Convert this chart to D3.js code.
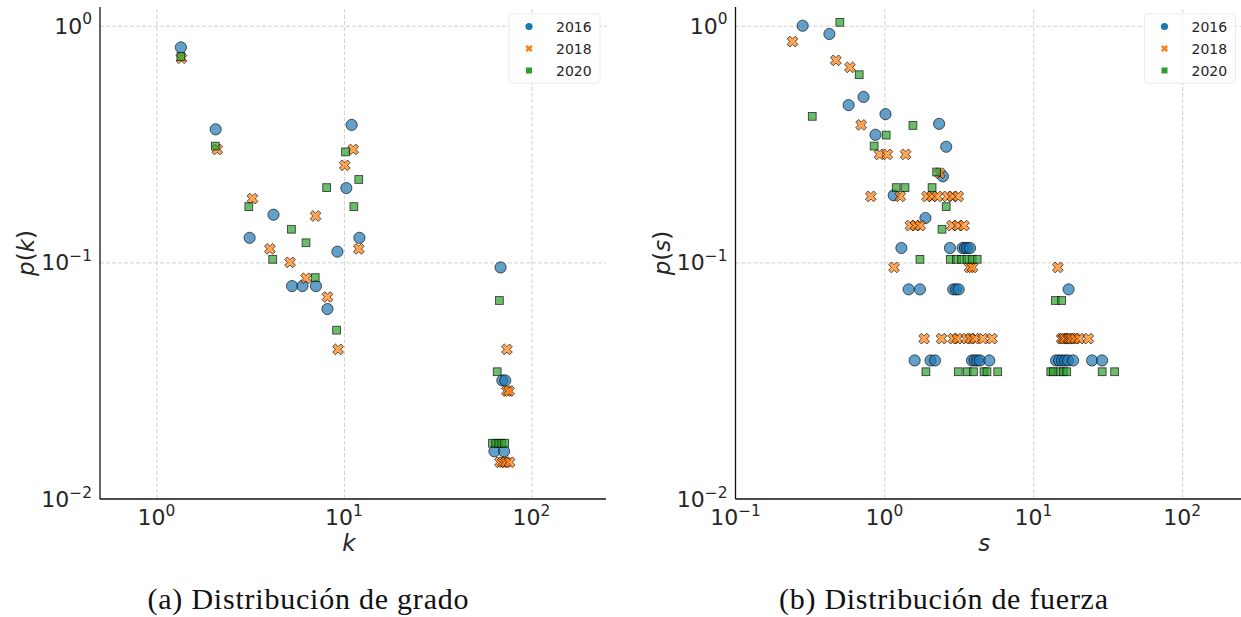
<!DOCTYPE html>
<html><head><meta charset="utf-8">
<script src="https://cdn.jsdelivr.net/npm/d3@7"></script>
<style>body{margin:0;background:#fff} svg{display:block} .cap{font-family:'Liberation Serif','Times New Roman',serif;}</style>
</head><body>
<svg id="c" width="1241" height="617"></svg>
<script>
// ---------------- data ----------------
const years = ["2016", "2018", "2020"];
const xTickExpLeft = [0, 1, 2];
const xTickExpRight = [-1, 0, 1, 2];
const yTickExp = [-2, -1, 0];

// (a) degree distribution
const deg2016_k = [1.35, 2.07, 3.14, 4.21, 5.29, 6.01, 7.09, 8.17, 9.23, 10.3, 11.0, 12.1, 68.5, 70.0, 72.5, 63.5, 71.5];
const deg2016_p = [0.810, 0.365, 0.127, 0.159, 0.0794, 0.0794, 0.0794, 0.0635, 0.111, 0.206, 0.381, 0.127, 0.0952, 0.0317, 0.0317, 0.0159, 0.0159];
const deg2018_k = [1.36, 2.11, 3.25, 4.03, 5.16, 6.28, 7.06, 8.17, 9.31, 10.1, 11.2, 12.0, 74.0, 74.0, 76.0, 68.0, 70.5, 73.0, 76.5];
const deg2018_p = [0.729, 0.300, 0.186, 0.114, 0.100, 0.0857, 0.157, 0.0714, 0.0429, 0.257, 0.300, 0.114, 0.0429, 0.0286, 0.0286, 0.0143, 0.0143, 0.0143, 0.0143];
const deg2020_k = [1.35, 2.06, 3.11, 4.17, 5.25, 6.28, 7.03, 8.09, 9.14, 10.2, 11.3, 12.0, 67.5, 65.7, 62.0, 64.5, 67.0, 69.5, 72.0];
const deg2020_p = [0.741, 0.310, 0.172, 0.103, 0.138, 0.121, 0.0862, 0.207, 0.0517, 0.293, 0.172, 0.224, 0.0690, 0.0345, 0.0172, 0.0172, 0.0172, 0.0172, 0.0172];

// (b) strength distribution
const str2016_s = [0.2825, 0.427, 0.575, 0.724, 1.017, 0.871, 2.33, 2.60, 2.47, 1.155, 1.886,
  1.30, 2.755, 3.354, 3.475, 3.60, 3.755,
  1.454, 1.732, 2.90, 3.024, 3.153, 17.25,
  1.596, 2.04, 2.185, 3.873, 4.03, 4.198, 4.38, 5.06, 14.21, 14.89, 15.59, 16.33, 17.10, 18.49, 24.80, 28.96];
const str2016_p = [1.0, 0.923, 0.462, 0.500, 0.423, 0.346, 0.385, 0.308, 0.231, 0.192, 0.154,
  0.115, 0.115, 0.115, 0.115, 0.115, 0.115,
  0.0769, 0.0769, 0.0769, 0.0769, 0.0769, 0.0769,
  0.0385, 0.0385, 0.0385, 0.0385, 0.0385, 0.0385, 0.0385, 0.0385, 0.0385, 0.0385, 0.0385, 0.0385, 0.0385, 0.0385, 0.0385, 0.0385];
const str2018_s = [0.2415, 0.472, 0.587, 0.698, 0.927, 1.046, 1.388, 2.36,
  0.811, 1.277, 1.93, 2.085, 2.27, 2.65, 2.864, 3.133,
  1.495, 1.615, 1.738, 2.84, 3.108, 3.42,
  1.16, 3.73, 3.90, 14.61,
  1.849, 2.42, 2.90, 3.085, 3.566, 3.784, 4.056, 4.59, 5.28, 15.47, 15.9, 16.33, 17.16, 17.6, 18.12, 19.06, 20.37, 23.42];
const str2018_p = [0.857, 0.714, 0.667, 0.381, 0.286, 0.286, 0.286, 0.238,
  0.190, 0.190, 0.190, 0.190, 0.190, 0.190, 0.190, 0.190,
  0.143, 0.143, 0.143, 0.143, 0.143, 0.143,
  0.0952, 0.0952, 0.0952, 0.0952,
  0.0476, 0.0476, 0.0476, 0.0476, 0.0476, 0.0476, 0.0476, 0.0476, 0.0476, 0.0476, 0.0476, 0.0476, 0.0476, 0.0476, 0.0476, 0.0476, 0.0476, 0.0476];
const str2020_s = [0.502, 0.677, 0.3277, 1.554, 1.028, 0.853, 2.243, 1.20, 1.375, 2.09, 2.60, 2.435,
  1.732, 2.77, 3.05, 3.30, 3.585, 3.884, 4.198,
  14.05, 15.5,
  1.90, 3.133, 3.60, 3.963, 4.665, 4.885, 5.766, 13.09, 13.63, 15.11, 15.91, 16.77, 28.99, 35.13];
const str2020_p = [1.034, 0.621, 0.414, 0.379, 0.345, 0.310, 0.241, 0.207, 0.207, 0.207, 0.172, 0.138,
  0.103, 0.103, 0.103, 0.103, 0.103, 0.103, 0.103,
  0.0690, 0.0690,
  0.0345, 0.0345, 0.0345, 0.0345, 0.0345, 0.0345, 0.0345, 0.0345, 0.0345, 0.0345, 0.0345, 0.0345, 0.0345, 0.0345];

// ---------------- drawing ----------------
const svg = d3.select("#c");
const colors = ["#1f77b4", "#ff7f0e", "#2ca02c"];
const textCol = "#262626";
const FONT = "DejaVu Sans, sans-serif";
const plotTop = 7, plotBottom = 499;

function xPath(u) {
  const pts = [[-1,-2],[0,-1],[1,-2],[2,-1],[1,0],[2,1],[1,2],[0,1],[-1,2],[-2,1],[-1,0],[-2,-1]];
  return "M" + pts.map(p => (p[0]*u) + "," + (p[1]*u)).join("L") + "Z";
}

function drawMarker(g, type, cx, cy, color, legend) {
  let el;
  if (type === 0) {
    el = g.append("circle").attr("cx", cx).attr("cy", cy).attr("r", legend ? 3.6 : 5.6).attr("fill", color);
  } else if (type === 1) {
    el = g.append("path").attr("d", xPath(legend ? 1.8 : 2.7)).attr("transform", `translate(${cx},${cy})`).attr("fill", color);
  } else {
    const h = legend ? 3 : 3.9;
    el = g.append("rect").attr("x", cx - h).attr("y", cy - h).attr("width", 2*h).attr("height", 2*h).attr("fill", color);
  }
  if (!legend) el.attr("fill-opacity", 0.7).attr("stroke", "#000").attr("stroke-opacity", 0.7).attr("stroke-width", 0.9);
}

function powLabel(sel, exp, size) {
  sel.append("tspan").text("10");
  sel.append("tspan").attr("dy", -size*0.42).attr("font-size", size*0.7).text(exp < 0 ? "\u2212" + (-exp) : String(exp));
}

function panel(cfg) {
  const g = svg.append("g");
  const x = d3.scaleLog().domain(cfg.xDomain).range(cfg.xRange);
  const y = d3.scaleLog().domain([0.01, 1.2]).range([plotBottom, plotTop]);
  const clipId = "clip" + cfg.id;
  svg.append("clipPath").attr("id", clipId).append("rect")
    .attr("x", cfg.xRange[0]).attr("y", plotTop).attr("width", cfg.xRange[1]-cfg.xRange[0]).attr("height", plotBottom-plotTop);

  // grid
  const grid = g.append("g");
  grid.append("g").attr("transform", `translate(0,${plotBottom})`)
    .call(d3.axisBottom(x).tickValues([1, 10, 100]).tickSize(-(plotBottom-plotTop)).tickFormat(""))
    .call(s => { s.select(".domain").remove(); s.selectAll("line").attr("stroke", "#cccccc").attr("stroke-width", 0.9).attr("stroke-dasharray", "4,2"); });
  grid.append("g").attr("transform", `translate(${cfg.xRange[0]},0)`)
    .call(d3.axisLeft(y).tickValues([0.1, 1]).tickSize(-(cfg.xRange[1]-cfg.xRange[0])).tickFormat(""))
    .call(s => { s.select(".domain").remove(); s.selectAll("line").attr("stroke", "#cccccc").attr("stroke-width", 0.9).attr("stroke-dasharray", "4,2"); });

  // points
  const pts = g.append("g").attr("clip-path", `url(#${clipId})`);
  cfg.series.forEach((s, i) => {
    s.x.forEach((v, j) => drawMarker(pts, i, x(v), y(s.p[j]), colors[i], false));
  });

  // spines
  g.append("line").attr("x1", cfg.xRange[0]).attr("x2", cfg.xRange[0]).attr("y1", plotTop).attr("y2", plotBottom)
    .attr("stroke", "#111").attr("stroke-width", 1.3);
  g.append("line").attr("x1", cfg.xRange[0]).attr("x2", cfg.xRange[1]).attr("y1", plotBottom).attr("y2", plotBottom)
    .attr("stroke", "#111").attr("stroke-width", 1.3);

  // tick labels
  cfg.xTicks.forEach(e => {
    const t = g.append("text").attr("x", x(Math.pow(10, e))).attr("y", 525)
      .attr("text-anchor", "middle").attr("font-family", FONT).attr("font-size", 22).attr("fill", textCol);
    powLabel(t, e, 22);
  });
  yTickExp.forEach(e => {
    const t = g.append("text").attr("x", cfg.xRange[0] - 8).attr("y", y(Math.pow(10, e)) + 8)
      .attr("text-anchor", "end").attr("font-family", FONT).attr("font-size", 22).attr("fill", textCol);
    powLabel(t, e, 22);
  });

  // axis labels
  const cx = (cfg.xRange[0] + Math.min(cfg.xRange[1], 1241)) / 2;
  g.append("text").attr("x", cx - 4).attr("y", 551).attr("text-anchor", "middle")
    .attr("font-family", FONT).attr("font-size", 23).attr("font-style", "italic").attr("fill", textCol).text(cfg.var);
  const yl = g.append("text").attr("transform", `translate(${cfg.xRange[0] - 66},${(plotTop+plotBottom)/2}) rotate(-90)`)
    .attr("text-anchor", "middle").attr("font-family", FONT).attr("font-size", 23).attr("fill", textCol);
  yl.append("tspan").attr("font-style", "italic").text("p");
  yl.append("tspan").text("(");
  yl.append("tspan").attr("font-style", "italic").text(cfg.var);
  yl.append("tspan").text(")");

  // legend
  const lg = g.append("g");
  const lx = cfg.legendX;
  lg.append("rect").attr("x", lx).attr("y", 14).attr("width", 91).attr("height", 69).attr("rx", 3)
    .attr("fill", "#fff").attr("fill-opacity", 0.8).attr("stroke", "#e4e4e4").attr("stroke-width", 0.8);
  years.forEach((yr, i) => {
    const yy = 26.5 + i * 22;
    drawMarker(lg, i, lx + 20, yy, colors[i], true);
    lg.append("text").attr("x", lx + 47).attr("y", yy + 5).attr("font-family", FONT).attr("font-size", 14)
      .attr("fill", textCol).text(yr);
  });

  // caption
  svg.append("text").attr("class", "cap").attr("x", cfg.captionX).attr("y", 609).attr("text-anchor", "middle")
    .attr("font-size", 30).attr("fill", "#111")
    .attr("textLength", cfg.captionW).attr("lengthAdjust", "spacing").text(cfg.caption);
}

panel({
  id: "a", xDomain: [0.5, 250], xRange: [100, 606], xTicks: xTickExpLeft, var: "k", legendX: 509,
  series: [{x: deg2016_k, p: deg2016_p}, {x: deg2018_k, p: deg2018_p}, {x: deg2020_k, p: deg2020_p}],
  caption: "(a) Distribución de grado", captionX: 308, captionW: 321
});
panel({
  id: "b", xDomain: [0.1, 250], xRange: [735.5, 1241.5], xTicks: xTickExpRight, var: "s", legendX: 1144.5,
  series: [{x: str2016_s, p: str2016_p}, {x: str2018_s, p: str2018_p}, {x: str2020_s, p: str2020_p}],
  caption: "(b) Distribución de fuerza", captionX: 943.5, captionW: 329
});
</script>
</body></html>
